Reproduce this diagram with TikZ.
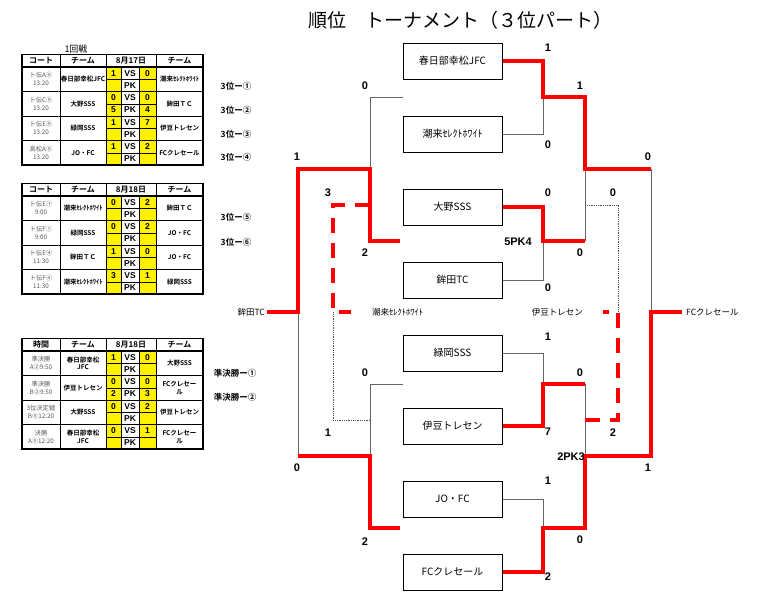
\documentclass[tikz,border=0pt]{standalone}
\usepackage{fontspec}
\setmainfont{Liberation Sans}
\newfontfamily\jp[BoldFont={Noto Sans CJK JP Bold}]{Noto Sans CJK JP}
\usetikzlibrary{positioning}

\begin{document}
\begin{tikzpicture}[x=1pt,y=-1pt,inner sep=0pt]

  \tikzstyle{team}=[rectangle,draw,line width=1pt,minimum width=99pt,minimum height=36pt,font=\jp\fontsize{10}{12}\selectfont];
  \tikzstyle{win}=[draw=red,line width=3.5pt];
  \tikzstyle{lose}=[draw=black!60,line width=1pt];
  \tikzstyle{thirdwin}=[draw=red,line width=3.5pt,dash pattern=on 15pt off 10pt];
  \tikzstyle{thirdlose}=[draw=black!70,line width=0.8pt,densely dotted];
  \tikzstyle{bscore}=[font=\bfseries\fontsize{11}{13}\selectfont];
  \tikzstyle{teamlabel}=[font=\jp\fontsize{8.5}{10}\selectfont];
  \tikzstyle{sidelabel}=[font=\jp\bfseries\fontsize{8.5}{10}\selectfont];
  \tikzstyle{head}=[font=\jp\bfseries\fontsize{8}{10}\selectfont];
  \tikzstyle{cell}=[font=\jp\bfseries\fontsize{6.5}{7.5}\selectfont,align=center];
  \tikzstyle{court}=[font=\jp\fontsize{6.3}{7.8}\selectfont,align=center,text=black!65];
  \tikzstyle{goal}=[font=\bfseries\fontsize{8.5}{9}\selectfont];

  \useasboundingbox (0,0) rectangle (765,595);

  % title
  \node[font=\jp\fontsize{19}{22}\selectfont] (title) at (460,20) {順位　トーナメント（３位パート）};

  % teams
  \node[team] (kasukabe) at (452.5,61) {春日部幸松JFC};
  \node[team] (itako)     [below=36pt of kasukabe]  {潮来ｾﾚｸﾄﾎﾜｲﾄ};
  \node[team] (oono)      [below=36pt of itako]     {大野SSS};
  \node[team] (hokota)    [below=36pt of oono]      {鉾田TC};
  \node[team] (midorioka) [below=36pt of hokota]    {緑岡SSS};
  \node[team] (izu)       [below=36pt of midorioka] {伊豆トレセン};
  \node[team] (jofc)      [below=36pt of izu]       {JO・FC};
  \node[team] (fccre)     [below=36pt of jofc]      {FCクレセール};

  % right side
  \coordinate (rA) at (543,97);
  \coordinate (rB) at (543,241);
  \coordinate (rC) at (543,384);
  \coordinate (rD) at (543,528);
  \coordinate (sU) at (585,169);
  \coordinate (sL) at (585,456);
  \coordinate (fU) at (651,169);
  \coordinate (fL) at (651,456);
  \coordinate (fin) at (651,312);
  \coordinate (fcend) at (682,312);

  \path[lose] (itako.east) -| (rA);
  \path[lose] (hokota.east) -| (rB);
  \path[lose] (sU) -- (rB -| sU);
  \path[lose] (fU) -- (fin);
  \path[lose] (midorioka.east) -| (rC);
  \path[lose] (rC -| sL) -- (sL);
  \path[lose] (jofc.east) -| (rD);
  \path[win] (kasukabe.east) -| (rA) -| (sU) -- (fU);
  \path[win] (oono.east) -| (rB) -- (rB -| sU);
  \path[win] (izu.east) -| (rC) -- (rC -| sL);
  \path[win] (fccre.east) -| (rD) -| (sL) -- (fL) -- (fin) -- (fcend);
  \node[teamlabel,right=4pt of fcend] (fcclabel) {FCクレセール};

  % left side
  \coordinate (lA) at (403,97);
  \coordinate (lB) at (400,241);
  \coordinate (lC) at (403,384);
  \coordinate (lD) at (400,528);
  \coordinate (qA) at (370,169);
  \coordinate (qB) at (370,456);
  \coordinate (lfin) at (298,312);
  \coordinate (hkend) at (267,312);

  \path[lose] (lA) -| (qA);
  \path[lose] (lfin) -- (qB -| lfin);
  \path[lose] (lC) -| (qB);
  \path[win] (lB) -| (qA) -| (lfin) -- (hkend);
  \path[win] (lD) -| (qB) -- (qB -| lfin);
  \node[teamlabel,left=2pt of hkend] (hklabel) {鉾田TC};

  % 3rd place
  \coordinate (tL1) at (370,205);
  \coordinate (tL2) at (370,420);
  \coordinate (tLm) at (333,312);
  \coordinate (tLend) at (351,312);
  \coordinate (tR1) at (587,205);
  \coordinate (tR2) at (585,420);
  \coordinate (tRm) at (618,312);
  \coordinate (tRend) at (603,312);

  \path[thirdlose] (tL2) -| (tLm);
  \path[thirdwin] (tL1) -| (tLm) -- (tLend);
  \node[teamlabel,right=21pt of tLend] (itlabel) {潮来ｾﾚｸﾄﾎﾜｲﾄ};
  \path[thirdlose] (tR1) -| (tRm);
  \path[thirdwin] (tR2) -| (tRm) -- (tRend);
  \node[teamlabel,left=20pt of tRend] (izlabel) {伊豆トレセン};

  % scores
  \foreach \p/\v [count=\i] in {(548,48)/1,(548,145)/0,(580,86)/1,(548,193)/0,
      (518,242)/5PK4,(548,288)/0,(580,253)/0,(648,157)/0,(613,193)/0,
      (548,337)/1,(580,373)/0,(548,432)/7,(613,433)/2,(571,457)/2PK3,
      (548,481)/1,(548,577)/2,(580,540)/0,(648,468)/1,
      (365,86)/0,(297,157)/1,(328,193)/3,(365,253)/2,
      (365,373)/0,(328,433)/1,(297,468)/0,(365,542)/2}
    \node[bscore] (score\i) at \p {\v};

  % side labels
  \foreach \p/\v [count=\i] in {(236,86)/3位ー①,(236,110)/3位ー②,(236,134)/3位ー③,
      (236,157)/3位ー④,(236,217)/3位ー⑤,(236,242)/3位ー⑥,
      (235,373)/準決勝ー①,(235,397)/準決勝ー②}
    \node[sidelabel] (side\i) at \p {\v};

  \node[font=\jp\fontsize{9}{10}\selectfont] (round1) at (76,49) {1回戦};

  % tables
  \foreach \t/\c/\d [count=\k] in {54.5/コート/8月17日,183.5/コート/8月18日,338.5/時間/8月18日} {
    \pgfmathsetmacro\hb{\t+12.5}
    \pgfmathsetmacro\bt{\hb+98}
    \foreach \i in {0,...,3} {
      \pgfmathsetmacro\ra{\hb+24.5*\i}
      \fill[yellow] (106,\ra) rectangle (121,{\ra+24.5});
      \fill[yellow] (139,\ra) rectangle (156,{\ra+24.5});
      \draw[line width=0.5pt] (106,{\ra+12.25}) -- (156,{\ra+12.25});
      \draw[line width=0.7pt] (22,\ra) -- (203,\ra);
    }
    \foreach \x in {60,106,156}
      \draw[line width=0.7pt] (\x,\t) -- (\x,\bt);
    \foreach \x in {121,139}
      \draw[line width=0.5pt] (\x,\hb) -- (\x,\bt);
    \draw[line width=1.3pt] (22,\hb) -- (203,\hb);
    \draw[line width=1.5pt] (22,\t) rectangle (203,\bt);
    \node[head] (hc\k) at (41,{\t+6.25}) {\c};
    \node[head] (ht\k) at (83,{\t+6.25}) {チーム};
    \node[head] (hd\k) at (131,{\t+6.25}) {\d};
    \node[head] (ha\k) at (179.5,{\t+6.25}) {チーム};
  }

  \foreach \y/\court/\home/\hs/\as/\hp/\ap/\away [count=\i] in {
      67/{ト伝A⑤\\13:20}/春日部幸松JFC/1/0///潮来ｾﾚｸﾄﾎﾜｲﾄ,
      91.5/{ト伝C⑤\\13:20}/大野SSS/0/0/5/4/鉾田ＴＣ,
      116/{ト伝E⑤\\13:20}/緑岡SSS/1/7///伊豆トレセン,
      140.5/{高松A⑤\\13:20}/JO・FC/1/2///FCクレセール,
      196/{ト伝E①\\9:00}/潮来ｾﾚｸﾄﾎﾜｲﾄ/0/2///鉾田ＴＣ,
      220.5/{ト伝F①\\9:00}/緑岡SSS/0/2///JO・FC,
      245/{ト伝E④\\11:30}/鉾田ＴＣ/1/0///JO・FC,
      269.5/{ト伝F④\\11:30}/潮来ｾﾚｸﾄﾎﾜｲﾄ/3/1///緑岡SSS,
      351/{準決勝\\A②9:50}/{春日部幸松\\JFC}/1/0///大野SSS,
      375.5/{準決勝\\B②9:50}/伊豆トレセン/0/0/2/3/{FCクレセー\\ル},
      400/{3位決定戦\\B⑤12:20}/大野SSS/0/2///伊豆トレセン,
      424.5/{決勝\\A⑤12:20}/{春日部幸松\\JFC}/0/1///{FCクレセー\\ル}} {
    \node[court] (ct\i) at (41,{\y+12.25}) {\court};
    \node[cell] (hm\i) at (83,{\y+12.25}) {\home};
    \node[goal] (hs\i) at (113.5,{\y+6.3}) {\hs};
    \node[goal] (vs\i) at (130,{\y+6.3}) {VS};
    \node[goal] (as\i) at (147.5,{\y+6.3}) {\as};
    \node[goal] (hp\i) at (113.5,{\y+18.5}) {\hp};
    \node[goal] (pk\i) at (130,{\y+18.5}) {PK};
    \node[goal] (ap\i) at (147.5,{\y+18.5}) {\ap};
    \node[cell] (aw\i) at (179.5,{\y+12.25}) {\away};
  }

\end{tikzpicture}
\end{document}
